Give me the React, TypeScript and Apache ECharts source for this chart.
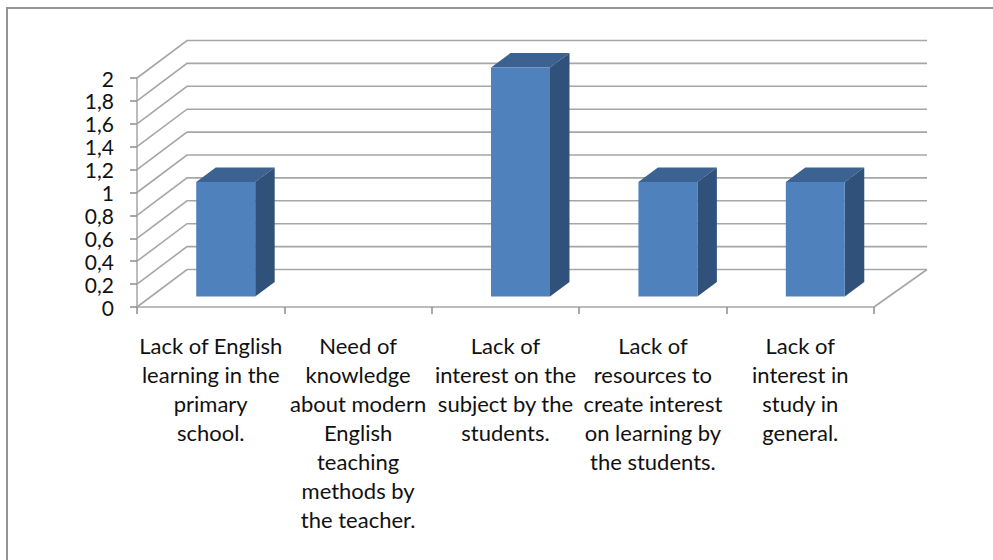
import React, { useEffect, useRef } from "react";
import * as echarts from "echarts";

const categories = [
  "Lack of English\nlearning in the\nprimary\nschool.",
  "Need of\nknowledge\nabout modern\nEnglish\nteaching\nmethods by\nthe teacher.",
  "Lack of\ninterest on the\nsubject by the\nstudents.",
  "Lack of\nresources to\ncreate interest\non learning by\nthe students.",
  "Lack of\ninterest in\nstudy in\ngeneral.",
];
const values = [1, 0, 2, 1, 1];
const gridValues = [0, 0.2, 0.4, 0.6, 0.8, 1, 1.2, 1.4, 1.6, 1.8, 2];

const GRID = "#a6a6a6";
const FONT = "Lato, Carlito, sans-serif";
const WALL_DX = 50;
const WALL_DY = -37.5;

export default function App() {
  const ref = useRef<HTMLDivElement>(null);
  useEffect(() => {
    const chart = echarts.init(ref.current!, undefined, { renderer: "svg" });
    const lastIdx = categories.length - 1;
    chart.setOption({
      animation: false,
      backgroundColor: "#fff",
      graphic: [
        {
          type: "line",
          shape: { x1: 6, y1: 8, x2: 993, y2: 8 },
          style: { stroke: "#949494", lineWidth: 2 },
          silent: true,
        },
        {
          type: "line",
          shape: { x1: 7, y1: 7, x2: 7, y2: 560 },
          style: { stroke: "#949494", lineWidth: 2 },
          silent: true,
        },
      ],
      grid: { left: 137, right: 119, top: 78, bottom: 253 },
      xAxis: {
        type: "category",
        data: categories,
        boundaryGap: true,
        axisLine: { show: true, lineStyle: { color: GRID, width: 1.5 } },
        axisTick: { show: true, length: 7, alignWithLabel: false, lineStyle: { color: "#8c8c8c", width: 1.5 } },
        axisLabel: {
          interval: 0,
          margin: 24,
          color: "#111",
          fontFamily: FONT,
          fontSize: 22,
          lineHeight: 29,
          align: "center",
        },
      },
      yAxis: {
        type: "value",
        min: 0,
        max: 2,
        interval: 0.2,
        axisLine: { show: true, lineStyle: { color: GRID, width: 1.5 } },
        axisTick: { show: true, length: 7, lineStyle: { color: "#8c8c8c", width: 1.5 } },
        splitLine: { show: false },
        axisLabel: {
          margin: 23,
          color: "#111",
          fontFamily: FONT,
          fontSize: 21,
          formatter: (v: number) => String(Math.round(v * 10) / 10).replace(".", ","),
        },
      },
      series: [
        {
          type: "custom",
          z: 1,
          silent: true,
          clip: false,
          data: gridValues.map((v) => [v]),
          renderItem: (_p: any, api: any) => {
            const v = api.value(0);
            const band = api.size([1, 0])[0];
            const [cx0, y] = api.coord([0, v]);
            const [cxN] = api.coord([lastIdx, v]);
            const x0 = cx0 - band / 2;
            const xN = cxN + band / 2;
            const lineStyle = { stroke: GRID, lineWidth: 1.6, fill: "none" };
            const children: any[] = [
              {
                type: "polyline",
                shape: {
                  points: [
                    [x0, y],
                    [x0 + WALL_DX, y + WALL_DY],
                    [xN + WALL_DX + 3, y + WALL_DY],
                  ],
                },
                style: lineStyle,
              },
            ];
            if (v === 0) {
              children.push({
                type: "line",
                shape: { x1: xN, y1: y, x2: xN + WALL_DX + 3, y2: y + WALL_DY },
                style: lineStyle,
              });
            }
            return { type: "group", children };
          },
        },
        {
          type: "custom",
          z: 2,
          silent: true,
          clip: false,
          data: values.map((v, i) => [i, v]),
          renderItem: (_p: any, api: any) => {
            const i = api.value(0);
            const v = api.value(1);
            if (!v) return null;
            const band = api.size([1, 0])[0];
            const [cx, top] = api.coord([i, v]);
            const [, base] = api.coord([i, 0]);
            const w = band * 0.4;
            const l = cx + 15 - w / 2;
            const r = l + w;
            const t = top - 10.5;
            const b = base - 10.5;
            const dx = 19.5;
            const dy = -14.5;
            return {
              type: "group",
              children: [
                {
                  type: "polygon",
                  shape: { points: [[l, t], [l + dx, t + dy], [r + dx, t + dy], [r, t]] },
                  style: { fill: "#3b6291" },
                },
                {
                  type: "polygon",
                  shape: { points: [[r, t], [r + dx, t + dy], [r + dx, b + dy], [r, b]] },
                  style: { fill: "#30527a" },
                },
                {
                  type: "rect",
                  shape: { x: l, y: t, width: w, height: b - t },
                  style: { fill: "#4f81bd" },
                },
              ],
            };
          },
        },
      ],
    });
    return () => chart.dispose();
  }, []);
  return (
    <div
      ref={ref}
      style={{ position: "fixed", left: 0, top: 0, width: 993, height: 560 }}
    />
  );
}
